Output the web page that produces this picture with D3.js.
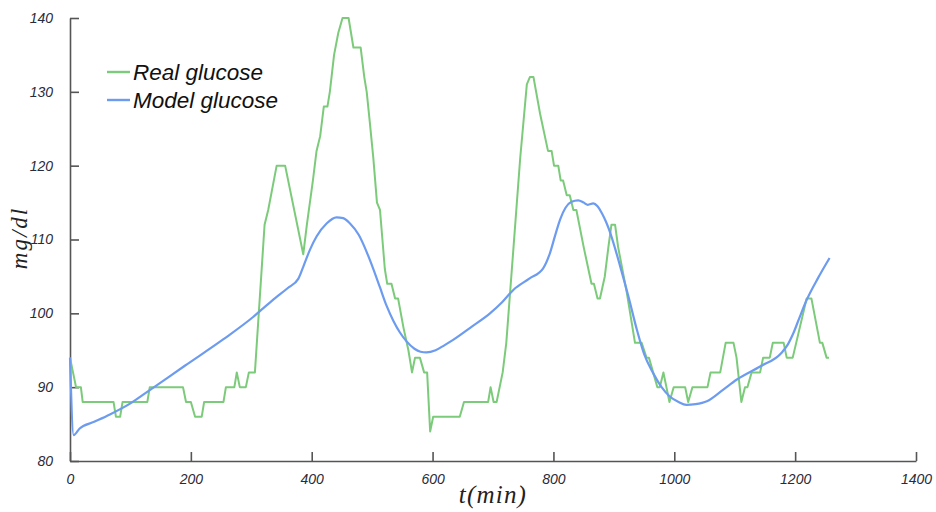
<!DOCTYPE html>
<html>
<head>
<meta charset="utf-8">
<script src="https://cdn.jsdelivr.net/npm/d3@7"></script>
<style>
  html, body { margin: 0; padding: 0; background: #fff; }
  svg { display: block; }
</style>
</head>
<body>
<svg id="chart" width="936" height="512"></svg>
<script>
// ---- data ----
const seriesNames = ["Real glucose", "Model glucose"];
const xTicks = [0, 200, 400, 600, 800, 1000, 1200, 1400];
const yTicks = [80, 90, 100, 110, 120, 130, 140];

const realTime = [0,10,18,21,72,76,83,87,128,132,187,192,200,207,218,222,254,258,272,276,281,291,296,306,322,328,342,356,386,392,402,408,414,420,426,430,437,444,451,461,469,481,487,491,496,502,508,513,519,521,525,532,538,543,552,560,566,571,579,586,591,596,601,645,652,692,696,701,706,716,722,734,745,756,761,767,778,791,797,801,808,812,816,822,827,833,838,850,863,867,873,877,885,891,896,902,907,921,935,946,954,958,965,972,976,982,992,999,1018,1023,1030,1055,1060,1076,1085,1098,1103,1111,1117,1121,1128,1142,1147,1158,1163,1181,1186,1196,1219,1227,1241,1245,1252,1256];
const realValue = [94,90,90,88,88,86,86,88,88,90,90,88,88,86,86,88,88,90,90,92,90,90,92,92,112,114,120,120,108,112,118,122,124,128,128,130,135,138,140,140,136,136,132,130,126,121,115,114,108,106,104,104,102,102,98,95,92,94,94,92,92,84,86,86,88,88,90,88,88,92,96,109,121,131,132,132,127,122,122,120,120,118,118,116,116,114,114,109,104,104,102,102,105,109,112,112,109,103,96,96,94,94,92,90,90,92,88,90,90,88,90,90,92,92,96,96,94,88,90,90,92,92,94,94,96,96,94,94,102,102,96,96,94,94];

const modelTime = [0,6,16,40,66,100,132,190,254,303,320,340,360,378,386,397,408,425,441,452,463,478,491,502,513,524,535,546,557,570,580,590,605,620,634,665,695,715,734,760,783,794,803,811,820,830,841,850,857,866,873,880,887,894,902,910,925,938,950,965,979,993,1007,1020,1035,1054,1080,1103,1142,1178,1188,1197,1208,1219,1238,1257];
const modelValue = [94,83.5,84.4,85.3,86.3,87.8,89.6,92.9,96.5,99.5,100.7,102.1,103.4,104.7,106.3,108.6,110.4,112.2,113,112.9,112.2,110.6,108.3,106,103.5,101,99,97.4,96.2,95.2,94.8,94.7,95,95.7,96.4,98.2,100,101.5,103.2,104.7,106.1,108.1,110.6,112.7,114.3,115.1,115.3,115,114.7,114.9,114.5,113.6,112.4,110.9,108.8,106.5,102,97.8,94.5,91.9,90,88.7,88,87.6,87.7,88.1,89.6,91,92.8,94.7,95.8,97.3,99.6,101.8,104.8,107.5];

// ---- layout ----
const svg = d3.select("#chart");
const plotLeft = 70, plotRight = 916, plotTop = 18, plotBottom = 461;

const x = d3.scaleLinear().domain([0, 1400]).range([plotLeft, plotRight]);
const y = d3.scaleLinear().domain([80, 140]).range([plotBottom, plotTop]);

const axisColor = "#555";
const labelColor = "#2a2a3a";
const green = "#7ccb7a";
const blue = "#6d9bef";

// axes
const xAxis = d3.axisBottom(x).tickValues(xTicks).tickFormat(d3.format("d"))
  .tickSizeInner(-9).tickSizeOuter(0).tickPadding(13);
const yAxis = d3.axisLeft(y).tickValues(yTicks).tickFormat(d3.format("d"))
  .tickSizeInner(-9).tickSizeOuter(0).tickPadding(17);

const gx = svg.append("g").attr("transform", `translate(0,${plotBottom})`).call(xAxis);
const gy = svg.append("g").attr("transform", `translate(${plotLeft},0)`).call(yAxis);

[gx, gy].forEach(g => {
  g.select(".domain").attr("stroke", axisColor).attr("stroke-width", 1.6);
  g.selectAll(".tick line").attr("stroke", axisColor).attr("stroke-width", 1.6);
  g.selectAll(".tick text")
    .attr("fill", labelColor)
    .style("font-family", "'Liberation Sans', Arial, sans-serif")
    .style("font-style", "italic")
    .style("font-size", "14px");
});

// lines
const realData = realTime.map((t, i) => [t, realValue[i]]);
const modelData = modelTime.map((t, i) => [t, modelValue[i]]);

const lineReal = d3.line().x(d => x(d[0])).y(d => y(d[1])).curve(d3.curveLinear);
const lineModel = d3.line().x(d => x(d[0])).y(d => y(d[1])).curve(d3.curveMonotoneX);

svg.append("path").datum(realData)
  .attr("d", lineReal).attr("fill", "none")
  .attr("stroke", green).attr("stroke-width", 2).attr("stroke-linejoin", "round");

svg.append("path").datum(modelData)
  .attr("d", lineModel).attr("fill", "none")
  .attr("stroke", blue).attr("stroke-width", 2.2).attr("stroke-linejoin", "round");

// legend
const legend = svg.append("g");
const legendColors = [green, blue];
seriesNames.forEach((name, i) => {
  const ly = 72 + i * 28;
  legend.append("line")
    .attr("x1", 107).attr("x2", 130).attr("y1", ly).attr("y2", ly)
    .attr("stroke", legendColors[i]).attr("stroke-width", 2.4);
  legend.append("text")
    .attr("x", 133).attr("y", ly + 7.5)
    .attr("fill", "#111")
    .style("font-family", "'Liberation Sans', Arial, sans-serif")
    .style("font-style", "italic")
    .style("font-size", "22.5px")
    .text(name);
});

// axis titles
svg.append("text")
  .attr("x", 493).attr("y", 503)
  .attr("text-anchor", "middle")
  .attr("fill", "#222")
  .style("font-family", "'Liberation Serif', 'DejaVu Serif', serif")
  .style("font-style", "italic")
  .style("font-size", "25px")
  .style("letter-spacing", "1.2px")
  .text("t(min)");

svg.append("text")
  .attr("transform", "translate(27,238) rotate(-90)")
  .attr("text-anchor", "middle")
  .attr("fill", "#222")
  .style("font-family", "'Liberation Serif', 'DejaVu Serif', serif")
  .style("font-style", "italic")
  .style("font-size", "23px")
  .style("letter-spacing", "2px")
  .text("mg/dl");
</script>
</body>
</html>
